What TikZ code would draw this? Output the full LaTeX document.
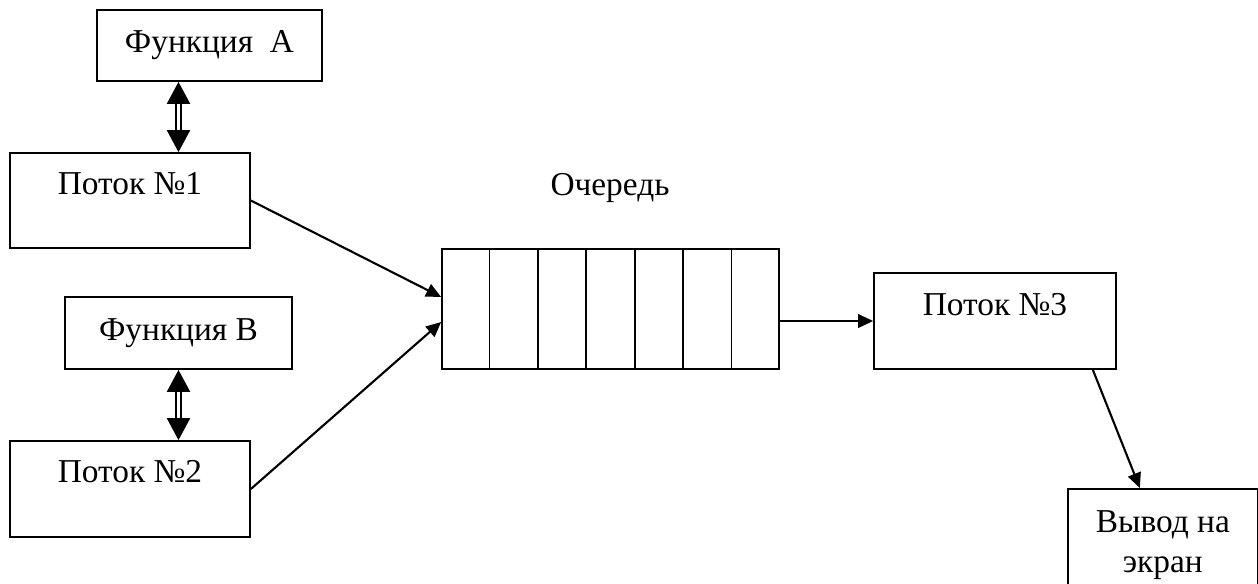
\documentclass[tikz,border=0pt]{standalone}
\usepackage{fontspec}
\setmainfont{Liberation Serif}
\usetikzlibrary{positioning,arrows.meta,calc}
\tikzset{
    block/.style = {
        draw,
        shape=rectangle,
        line width=1pt,
        inner sep=0pt
    },
    cell/.style = {
        draw,
        line width=1pt
    },
    empty/.style = {
        shape=rectangle,
        inner sep=0pt
    },
    flow/.style = {
        draw,
        line width=1.2pt,
        -{Triangle[length=0.3cm,width=0.27cm]}
    },
    call/.style = {
        draw,
        double,
        line width=1.2pt,
        double distance=0.045cm,
        {Triangle[length=0.44cm,width=0.46cm]}-{Triangle[length=0.44cm,width=0.46cm]}
    },
}

\begin{document}
\begin{tikzpicture}[x=0.02cm, y=-0.02cm, font=\fontsize{19}{23}\selectfont]
            \clip (0,0) rectangle (1258,583);

            \node[block, minimum width=4.5cm, minimum height=1.42cm] (funcA) at (209.5,45.5) {Функция~~A};
            \node[block, minimum width=4.8cm, minimum height=1.9cm, text depth=0.7cm] (thread1) at (130,200.5) {Поток №1};
            \node[block, minimum width=4.54cm, minimum height=1.44cm] (funcB) at (178.5,333) {Функция B};
            \node[block, minimum width=4.8cm, minimum height=1.92cm, text depth=0.7cm] (thread2) at (130,489) {Поток №2};

            \node[block, minimum width=6.74cm, minimum height=2.4cm] (queue) at (610.5,309) {};
            \foreach \i in {1,...,6}
                \draw[cell] ($(queue.south west)!\i/7!(queue.south east)$) -- ($(queue.north west)!\i/7!(queue.north east)$);
            \node[empty] (qlabel) at (610,188) {Очередь};

            \node[block, minimum width=4.84cm, minimum height=1.92cm, text depth=0.65cm] (thread3) at (995,321) {Поток №3};
            \node[block, minimum width=3.8cm, minimum height=2.24cm, align=center, anchor=north west] (output) at (1067,488) {Вывод на\\экран};

            \path[call] (funcA.south -| funcB.north) -- (thread1.north -| funcB.north);
            \path[call] (funcB.south) -- (thread2.north -| funcB.south);

            \path[flow] (thread1.east) -- ([yshift=0.24cm]queue.west);
            \path[flow] (thread2.east) -- ([yshift=-0.26cm]queue.west);
            \path[flow] (queue.east |- thread3.west) -- (thread3.west);
            \path[flow] ([xshift=-0.48cm]thread3.south east) -- ([xshift=-0.46cm]output.north);
        \end{tikzpicture}
\end{document}
